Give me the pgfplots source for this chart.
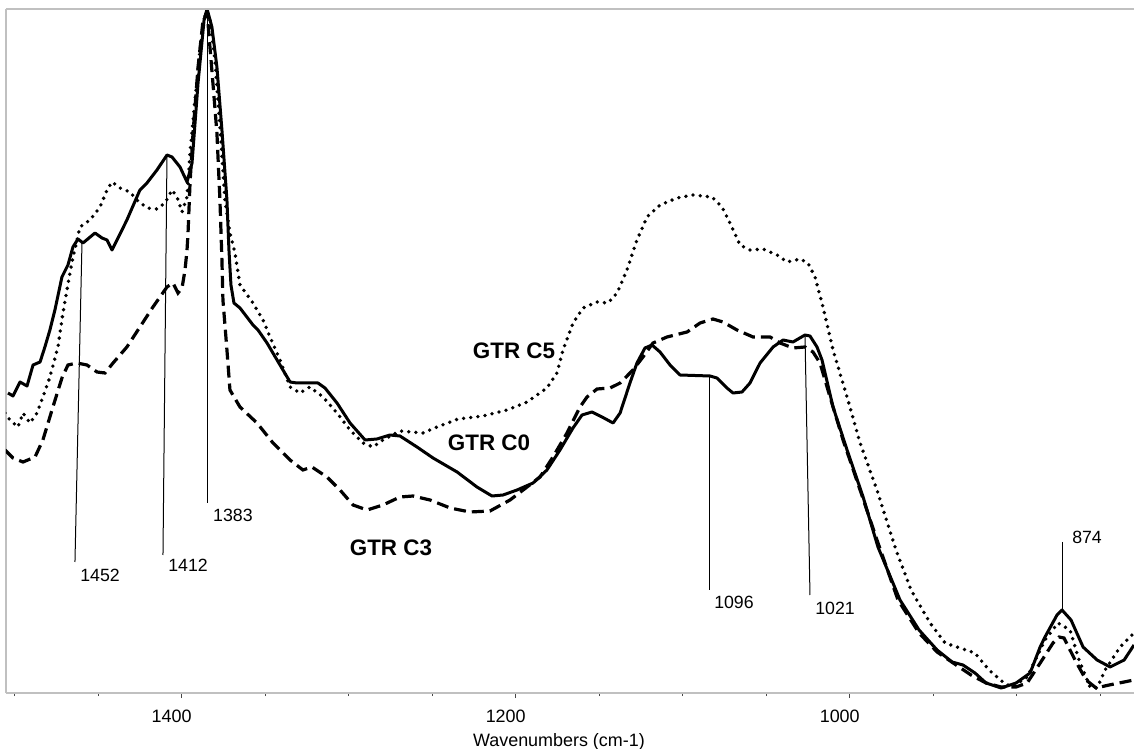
\documentclass[border=0pt]{standalone}
\usepackage{fontspec}
\setmainfont{Liberation Sans}
\usepackage{pgfplots}
\pgfplotsset{compat=1.18}
\definecolor{axisgray}{RGB}{192,192,192}
\definecolor{tickgray}{RGB}{70,70,70}
\begin{document}
\begin{tikzpicture}
\useasboundingbox (-3bp,-28bp) rectangle (564bp,346.5bp);
\begin{axis}[
  at={(0,0)}, anchor=south west,
  scale only axis, width=564bp, height=342bp,
  x dir=reverse,
  xmin=829.8, xmax=1505.2,
  ymin=0, ymax=684,
  clip mode=individual,
  axis x line*=bottom, axis y line*=left,
  x axis line style={draw=axisgray, line width=1.25bp, -},
  y axis line style={draw=axisgray, line width=1.25bp, -},
  xtick={1000,1200,1400},
  minor xtick={850,900,...,1500},
  ytick=\empty,
  tick align=outside,
  major tick length=2.5bp, minor tick length=1.5bp,
  every tick/.style={draw=tickgray, line width=0.6bp},
  /pgf/number format/assume math mode=true,
  /pgf/number format/1000 sep={},
  xticklabel style={font=\fontsize{9}{10}\selectfont, xshift=-5bp, yshift=-2.5bp},
  xlabel={Wavenumbers (cm-1)},
  xlabel style={at={(axis description cs:0.4902,0)}, anchor=base, yshift=-26.5bp, font=\fontsize{9}{10}\selectfont},
  mark=none,
]
% GTR C0 (solid)
\addplot[black, line width=1.5bp, line join=round, mark=none] coordinates {
(1504.0,300) (1501.0,297) (1496.8,311) (1492.6,307) (1489.0,328) (1484.8,331)
(1481.9,346) (1478.9,363) (1475.9,383) (1471.7,416) (1468.1,428) (1465.1,446)
(1462.1,454) (1459.1,450) (1451.9,460) (1447.7,455) (1444.7,453) (1441.7,443)
(1438.1,455) (1432.8,473) (1425.0,503) (1420.8,510) (1414.8,523) (1408.8,538)
(1405.8,536) (1401.0,526) (1396.8,511) (1393.8,530) (1390.2,610) (1386.6,673)
(1384.8,684) (1381.9,666) (1378.9,626) (1375.9,563) (1372.9,493) (1371.7,443)
(1370.5,408) (1368.7,390) (1365.1,385) (1357.3,368) (1354.3,363) (1348.9,350)
(1342.9,333) (1335.1,311) (1331.0,310) (1318.4,310) (1314.2,305) (1307.0,290)
(1299.2,270) (1290.2,253) (1283.1,254) (1275.3,258) (1269.3,257) (1259.1,246)
(1249.5,235) (1235.1,221) (1223.2,206) (1214.2,197) (1207.6,198) (1199.2,203)
(1189.6,210) (1181.3,223) (1173.5,243) (1165.7,265) (1160.3,278) (1154.3,281)
(1148.3,276) (1141.7,270) (1137.5,280) (1131.6,310) (1127.4,330) (1122.6,345)
(1118.4,348) (1113.6,341) (1107.6,328) (1101.6,318) (1083.7,317) (1079.5,315)
(1073.5,305) (1069.9,300) (1064.5,301) (1059.7,310) (1053.7,330) (1045.9,346)
(1039.9,353) (1034.0,351) (1026.8,358) (1023.8,357) (1019.6,346) (1016.6,333)
(1010.0,286) (1001.6,243) (992.0,196) (983.1,146) (969.9,93) (958.5,63)
(947.7,43) (938.7,31) (932.2,28) (925.0,20) (918.4,10) (909.4,5) (900.4,10)
(892.0,20) (886.0,46) (883.1,56) (875.9,78) (872.9,83) (867.5,73) (860.3,46)
(851.9,33) (844.1,26) (835.7,33) (829.8,48)
};
% GTR C5 (dotted)
\addplot[black, line width=1.9bp, line cap=round, dash pattern=on 0bp off 3.6bp, mark=none] coordinates {
(1505.8,280) (1502.8,273) (1498.0,266) (1495.0,280) (1490.8,270) (1486.6,280)
(1483.1,296) (1478.9,316) (1474.1,346) (1471.1,380) (1468.7,403) (1465.7,431)
(1460.9,466) (1454.9,473) (1448.9,486) (1444.7,503) (1441.7,511) (1436.9,505)
(1431.0,501) (1426.8,493) (1420.8,485) (1414.8,484) (1410.0,490) (1405.8,503)
(1402.8,496) (1399.8,481) (1396.8,496) (1395.0,540) (1392.0,593) (1389.0,643)
(1386.0,680) (1383.1,673) (1380.1,633) (1377.1,566) (1374.1,493) (1371.1,460)
(1368.1,440) (1365.1,408) (1357.3,390) (1351.3,373) (1347.1,356) (1341.1,333)
(1335.1,306) (1329.2,300) (1323.2,306) (1315.4,296) (1307.0,280) (1299.2,263)
(1291.4,250) (1285.4,246) (1279.5,253) (1269.3,262) (1255.5,260) (1247.1,266)
(1234.5,274) (1219.6,277) (1205.2,283) (1193.2,291) (1181.3,305) (1175.3,320)
(1171.7,343) (1165.7,370) (1159.7,385) (1151.3,391) (1144.7,390) (1139.3,400)
(1133.4,423) (1127.4,453) (1121.4,476) (1113.6,488) (1103.4,495) (1093.8,498)
(1082.5,496) (1076.5,486) (1071.7,470) (1065.7,448) (1059.7,443) (1051.9,444)
(1043.5,438) (1037.5,431) (1029.8,434) (1025.0,430) (1020.8,416) (1016.0,386)
(1010.0,343) (1001.6,296) (993.8,250) (983.7,203) (972.3,143) (963.3,103)
(951.9,70) (942.9,50) (934.0,45) (925.0,40) (916.6,23) (907.6,10) (902.8,6)
(893.8,16) (883.1,53) (875.3,70) (868.1,63) (862.7,33) (856.1,6) (851.9,5)
(847.1,23) (838.1,46) (829.8,60)
};
% GTR C3 (dashed)
\addplot[black, line width=1.6bp, dash pattern=on 6bp off 3bp, mark=none] coordinates {
(1505.8,243) (1501.0,235) (1495.0,231) (1487.8,236) (1483.1,253) (1477.1,286)
(1471.7,315) (1468.1,328) (1462.7,330) (1456.7,328) (1450.7,321) (1445.9,320)
(1441.1,330) (1432.8,346) (1425.0,366) (1417.2,386) (1408.8,406) (1405.2,410)
(1402.2,400) (1399.8,405) (1398.0,423) (1396.8,443) (1396.2,460) (1395.0,510)
(1393.2,560) (1390.2,626) (1387.2,673) (1384.8,681) (1381.3,610) (1378.9,560)
(1377.1,493) (1375.9,433) (1375.3,393) (1372.9,343) (1371.1,303) (1365.1,286)
(1354.9,270) (1345.3,250) (1335.1,233) (1327.4,223) (1322.0,226) (1313.0,216)
(1305.2,203) (1297.4,188) (1289.0,183) (1279.5,188) (1269.3,196) (1261.5,197)
(1251.3,193) (1239.3,185) (1227.4,181) (1215.4,182) (1203.4,193) (1193.2,206)
(1185.4,216) (1177.7,236) (1169.3,260) (1161.5,286) (1157.3,296) (1151.3,304)
(1143.5,305) (1137.5,310) (1129.8,323) (1123.8,336) (1117.8,350) (1109.4,356)
(1097.4,361) (1089.6,370) (1081.9,374) (1075.9,371) (1067.5,363) (1057.9,356)
(1047.7,356) (1041.7,350) (1034.0,345) (1026.8,346) (1022.0,341) (1017.8,330)
(1011.8,296) (1004.0,253) (993.8,203) (983.7,153) (971.1,93) (958.5,60)
(947.7,41) (936.3,28) (927.4,18) (918.4,10) (909.4,6) (900.4,6) (893.8,10)
(884.8,33) (878.3,50) (874.7,56) (871.7,55) (865.1,33) (858.5,13) (852.5,5)
(844.7,8) (835.7,11) (829.8,13)
};
% top frame line
\draw[axisgray, line width=1.25bp] (axis description cs:0,1) -- (axis description cs:1,1);
% annotation lines
\draw[black, line width=0.5bp] (axis cs:1459.7,450) -- (axis cs:1463.9,131);
\draw[black, line width=0.5bp] (axis cs:1408.8,538) -- (axis cs:1411.2,138);
\draw[black, line width=0.5bp] (axis cs:1384.3,683) -- (axis cs:1384.3,190);
\draw[black, line width=0.5bp] (axis cs:1084.2,316) -- (axis cs:1084.2,103);
\draw[black, line width=0.5bp] (axis cs:1026.8,358) -- (axis cs:1023.8,98);
\draw[black, line width=0.5bp] (axis cs:872.9,151) -- (axis cs:872.9,83);
% annotation labels
\begin{scope}[every node/.style={font=\fontsize{8.9}{10}\selectfont, inner sep=0pt}]
\node at (axis cs:1448.9,118) {1452};
\node at (axis cs:1396.2,128) {1412};
\node at (axis cs:1369.3,178) {1383};
\node at (axis cs:1069.3,91) {1096};
\node at (axis cs:1008.8,85) {1021};
\node at (axis cs:857.9,156) {874};
\end{scope}
\begin{scope}[every node/.style={font=\fontsize{11.25}{12}\selectfont\bfseries, inner sep=0pt}]
\node at (axis cs:1201.0,342) {GTR C5};
\node at (axis cs:1216.0,250) {GTR C0};
\node at (axis cs:1274.7,145) {GTR C3};
\end{scope}
\end{axis}
\end{tikzpicture}
\end{document}
